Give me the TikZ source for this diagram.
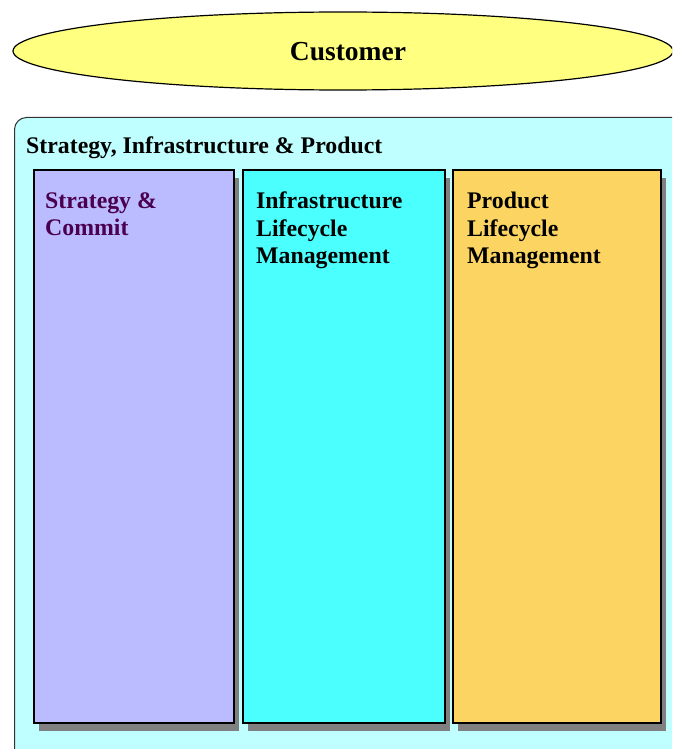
\documentclass[tikz,border=0pt]{standalone}
\usepackage{fontspec}
\setmainfont{Liberation Serif}
\usetikzlibrary{shapes.geometric}
\definecolor{ellfill}{HTML}{FFFF80}
\definecolor{outerfill}{HTML}{BFFFFF}
\definecolor{purplefill}{HTML}{BBBBFF}
\definecolor{cyanfill}{HTML}{4CFFFF}
\definecolor{orangefill}{HTML}{FCD462}
\definecolor{shadowgray}{HTML}{808080}
\definecolor{darkpurple}{HTML}{4A004E}
\tikzset{
  colbox/.style={draw=black, line width=1.5pt, rectangle, inner sep=0pt,
    minimum width=#1, minimum height=553pt, anchor=north west},
  shadowbox/.style={fill=shadowgray, draw=none, rectangle, inner sep=0pt,
    minimum width=#1, minimum height=553pt, anchor=north west},
  coltext/.style={anchor=north west, inner sep=0pt, align=left,
    font=\fontsize{23.8pt}{27.5pt}\selectfont\bfseries},
}
\begin{document}
\begin{tikzpicture}[x=1pt,y=-1pt]
\useasboundingbox (0,0) rectangle (672,749);
\clip (0,0) rectangle (672,749);
% customer ellipse
\node[ellipse, draw=black, line width=1.2pt, fill=ellfill, minimum width=660pt,
  minimum height=78pt, inner sep=0pt] (cust) at (343,51) {};
\node[inner sep=0pt, font=\fontsize{27.5pt}{30pt}\selectfont\bfseries]
  (custtext) at ([xshift=5pt,yshift=-1pt]cust.center) {Customer};
% outer container
\node[draw=black!80, line width=1pt, fill=outerfill, rounded corners=12pt,
  anchor=north west, minimum width=690pt, minimum height=660pt, inner sep=0pt]
  (outer) at (14,117) {};
\node[anchor=west, inner sep=0pt, font=\fontsize{23.8pt}{26pt}\selectfont\bfseries]
  (title) at (26,148) {Strategy, Infrastructure \& Product};
% shadows
\node[shadowbox=200pt] (sh1) at (39,178) {};
\node[shadowbox=202pt] (sh2) at (248,178) {};
\node[shadowbox=208pt] (sh3) at (458,178) {};
% columns
\node[colbox=200pt, fill=purplefill] (c1) at (33,169) {};
\node[colbox=202pt, fill=cyanfill] (c2) at (242,169) {};
\node[colbox=208pt, fill=orangefill] (c3) at (452,169) {};
\node[coltext, text=darkpurple] (t1) at ([xshift=12pt,yshift=-23pt]c1.north west) {Strategy \&\\Commit};
\node[coltext] (t2) at ([xshift=14pt,yshift=-23pt]c2.north west) {Infrastructure\\Lifecycle\\Management};
\node[coltext] (t3) at ([xshift=15pt,yshift=-23pt]c3.north west) {Product\\Lifecycle\\Management};
\end{tikzpicture}
\end{document}
